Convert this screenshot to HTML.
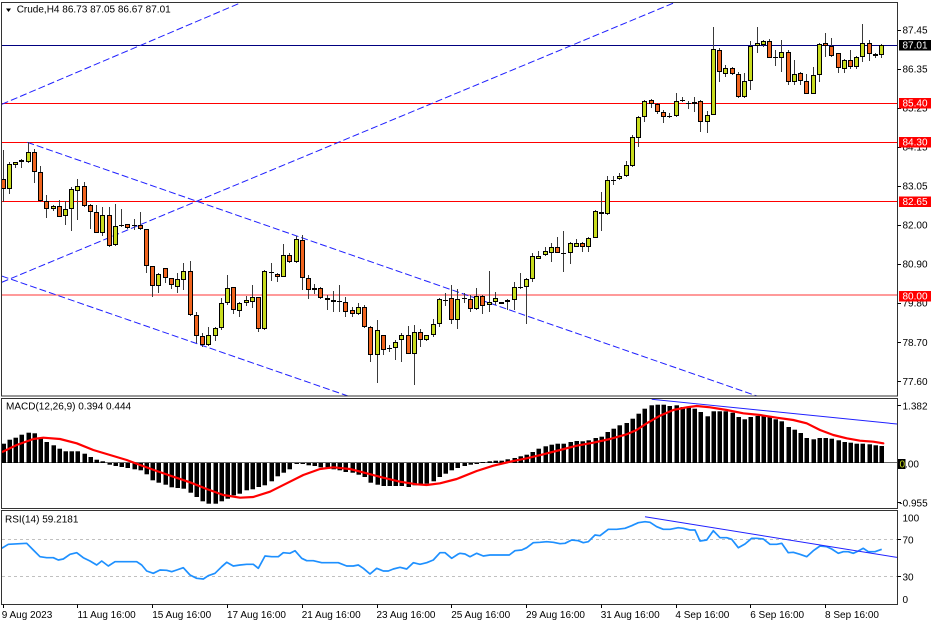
<!DOCTYPE html>
<html><head><meta charset="utf-8">
<style>
html,body{margin:0;padding:0;background:#fff;overflow:hidden;}
svg{display:block;font-family:"Liberation Sans",sans-serif;font-size:10px;}
</style></head><body>
<svg id="c" width="936" height="624" viewBox="0 0 936 624" xmlns="http://www.w3.org/2000/svg">
<rect width="936" height="624" fill="#fff"/>
<defs>
<clipPath id="cm"><rect x="2" y="3" width="895.5" height="393"/></clipPath>
<clipPath id="cd"><rect x="2" y="399" width="895.5" height="109"/></clipPath>
<clipPath id="cr"><rect x="2" y="511" width="895.5" height="93"/></clipPath>
</defs>

<!-- main panel -->
<g clip-path="url(#cm)">
  <line x1="2" y1="45.5" x2="897" y2="45.5" stroke="#000080" stroke-width="1"/>
  <line x1="2" y1="103.5" x2="897" y2="103.5" stroke="#ff0000" stroke-width="1"/>
  <line x1="2" y1="142.5" x2="897" y2="142.5" stroke="#ff0000" stroke-width="1"/>
  <line x1="2" y1="201.5" x2="897" y2="201.5" stroke="#ff0000" stroke-width="1"/>
  <line x1="2" y1="295" x2="897" y2="295" stroke="#ff9a9a" stroke-width="2"/>
  <g stroke="#2020ff" stroke-width="1" stroke-dasharray="7 3" fill="none">
    <line x1="1.7" y1="104.3" x2="242.5" y2="2"/>
    <line x1="1.7" y1="282.3" x2="676" y2="2"/>
    <line x1="27.3" y1="142.3" x2="757" y2="396"/>
    <line x1="1.7" y1="276" x2="348" y2="396"/>
  </g>
  <g id="candles"></g>
</g>
<rect x="1.5" y="2.5" width="896" height="393.5" fill="none" stroke="#333" stroke-width="1"/>
<polygon points="6,8.5 11,8.5 8.5,12" fill="#000"/>
<text x="16.7" y="12.6" fill="#000">Crude,H4  86.73 87.05 86.67 87.01</text>

<!-- main axis labels -->
<g fill="#000" id="mainlabels">
  <text x="902.5" y="33.6">87.45</text>
  <text x="902.5" y="72.6">86.35</text>
  <text x="902.5" y="111.6">85.25</text>
  <text x="902.5" y="150.6">84.15</text>
  <text x="902.5" y="189.6">83.05</text>
  <text x="902.5" y="228.6">82.00</text>
  <text x="902.5" y="267.6">80.90</text>
  <text x="902.5" y="306.6">79.80</text>
  <text x="902.5" y="346.1">78.70</text>
  <text x="902.5" y="385.1">77.60</text>
</g>
<g stroke="#000" stroke-width="1">
  <line x1="897.5" y1="30.5" x2="901" y2="30.5"/>
  <line x1="897.5" y1="69.5" x2="901" y2="69.5"/>
  <line x1="897.5" y1="108.5" x2="901" y2="108.5"/>
  <line x1="897.5" y1="147.5" x2="901" y2="147.5"/>
  <line x1="897.5" y1="186.5" x2="901" y2="186.5"/>
  <line x1="897.5" y1="225.5" x2="901" y2="225.5"/>
  <line x1="897.5" y1="264.5" x2="901" y2="264.5"/>
  <line x1="897.5" y1="303.5" x2="901" y2="303.5"/>
  <line x1="897.5" y1="342.5" x2="901" y2="342.5"/>
  <line x1="897.5" y1="381.5" x2="901" y2="381.5"/>
</g>
<rect x="899" y="40" width="32" height="10.5" fill="#000"/>
<text x="902.5" y="48.6" fill="#fff">87.01</text>
<rect x="899" y="98" width="32" height="10.5" fill="#ff0000"/>
<text x="902.5" y="106.6" fill="#fff">85.40</text>
<rect x="899" y="137" width="32" height="10.5" fill="#ff0000"/>
<text x="902.5" y="145.6" fill="#fff">84.30</text>
<rect x="899" y="196.5" width="32" height="10.5" fill="#ff0000"/>
<text x="902.5" y="205.1" fill="#fff">82.65</text>
<rect x="899" y="291" width="32" height="10.5" fill="#ff0000"/>
<text x="902.5" y="299.6" fill="#fff">80.00</text>

<!-- MACD panel -->
<g clip-path="url(#cd)">
  <line x1="2" y1="462.5" x2="897" y2="462.5" stroke="#666" stroke-width="1"/>
  <g id="hist"></g>
  <polyline id="sig" fill="none" stroke="#ff0000" stroke-width="2.2" stroke-linejoin="round" stroke-linecap="round"/>
  <line x1="651.7" y1="399.3" x2="897" y2="424" stroke="#2020ff" stroke-width="1"/>
</g>
<rect x="1.5" y="398.5" width="896" height="110" fill="none" stroke="#333" stroke-width="1"/>
<text x="6" y="409.7" fill="#000">MACD(12,26,9) 0.394 0.444</text>
<text x="902.5" y="409.3" fill="#000">1.382</text>
<text x="899.5" y="467.3" fill="#000">0.00</text>
<rect x="898" y="459" width="7.5" height="10" fill="#000"/>
<text x="899.5" y="467.3" fill="#c8dc1e">0</text>
<text x="899.3" y="506.3" fill="#000">-0.955</text>
<g stroke="#000" stroke-width="1">
  <line x1="897.5" y1="405.5" x2="901" y2="405.5"/>
  <line x1="897.5" y1="502.5" x2="901" y2="502.5"/>
</g>

<!-- RSI panel -->
<g clip-path="url(#cr)">
  <line x1="2" y1="539.5" x2="897" y2="539.5" stroke="#c0c0c0" stroke-width="1" stroke-dasharray="3 3"/>
  <line x1="2" y1="576.5" x2="897" y2="576.5" stroke="#c0c0c0" stroke-width="1" stroke-dasharray="3 3"/>
  <polyline id="rsi" fill="none" stroke="#1e90ff" stroke-width="1.7" stroke-linejoin="round"/>
  <line x1="645" y1="516.7" x2="897" y2="557.4" stroke="#2020ff" stroke-width="1"/>
</g>
<rect x="1.5" y="510.5" width="896" height="94" fill="none" stroke="#333" stroke-width="1"/>
<text x="5" y="522.7" fill="#000">RSI(14) 59.2181</text>
<text x="902.5" y="521.3" fill="#000">100</text>
<text x="902.5" y="543.6" fill="#000">70</text>
<text x="902.5" y="580.3" fill="#000">30</text>
<text x="902.5" y="602.9" fill="#000">0</text>
<g stroke="#000" stroke-width="1">
  <line x1="897.5" y1="539.5" x2="901" y2="539.5"/>
  <line x1="897.5" y1="576.5" x2="901" y2="576.5"/>
</g>

<!-- time axis -->
<g id="tticks" stroke="#000" stroke-width="1"></g>
<g fill="#000">
  <text x="1.7" y="618">9 Aug 2023</text>
  <text x="77.5" y="618">11 Aug 16:00</text>
  <text x="152.2" y="618">15 Aug 16:00</text>
  <text x="227" y="618">17 Aug 16:00</text>
  <text x="301.7" y="618">21 Aug 16:00</text>
  <text x="376.5" y="618">23 Aug 16:00</text>
  <text x="451.2" y="618">25 Aug 16:00</text>
  <text x="526" y="618">29 Aug 16:00</text>
  <text x="600.7" y="618">31 Aug 16:00</text>
  <text x="675.4" y="618">4 Sep 16:00</text>
  <text x="750.2" y="618">6 Sep 16:00</text>
  <text x="825" y="618">8 Sep 16:00</text>
</g>
</svg>
<script>
(function(){
var NS="http://www.w3.org/2000/svg";
function el(n,a,p){var e=document.createElementNS(NS,n);for(var k in a)e.setAttribute(k,a[k]);p.appendChild(e);return e;}
function X(i){return 2.7+i*6.23;}
var C=[
[179.3,189.3,150,201.7,0],[164,189.3,161.7,194.3,1],[162.3,165.3,161.7,167.7,1],[160.3,162,158.7,167.7,1],[152.3,161.7,142.3,163.3,1],
[152.3,171.7,149,183.3,0],[172.3,200.7,165.7,201.7,0],[200.7,209.3,195,217.7,0],[206.3,209.3,205,211,1],[206.3,216.7,200,217.3,0],
[209.3,216,200.7,225,1],[189.3,209.3,187.3,231,1],[185.7,190.7,179.3,220,1],[185.7,206,182.3,206.7,0],[205.3,212.3,204,229,0],
[212.3,233,205.3,233,0],[215.3,233,206.7,236,1],[215.3,246,206.7,246.7,0],[226.3,245.3,204,246,1],[225,226.3,209.3,226.7,1],
[224.3,227.7,224,228.7,0],[225,226.3,218.7,230,1],[225.3,229.3,211.7,230,0],[229.3,266,229,273.3,0],[266,286,266,296.7,0],
[274.3,286,273.3,293.3,1],[268.3,277.7,268.3,283.3,0],[278.3,285.3,277.7,289.3,0],[279.3,286.7,273.3,293.3,1],[271.3,280,263.3,290,1],
[271.3,315,260.7,315.7,0],[315,335.7,311.7,343.3,0],[336.3,345,333.3,346.7,0],[335.3,345,326.7,346,1],[327.7,335.7,326.7,340.7,1],
[303.3,328.3,298.3,330,1],[288.3,303.3,275,305,1],[287.3,310,286.7,314,0],[302.7,310.7,301.7,317.3,1],[300,303,296,306,1],
[297.3,302.3,285,308.3,1],[297.3,329.3,296.7,331.7,0],[270.7,329.3,270,330,1],[271.7,272.7,262.7,280.7,1],[274,276.7,272.7,282,0],
[255.3,276.7,244,277.3,1],[255.3,261.7,252.7,262.7,0],[239.3,261.7,236,262.7,1],[240,278.3,235,290,0],[278.3,290,275,299,0],
[288,289.5,284,294,0],[288.3,298.3,286.7,299,0],[298.3,300,295,310,0],[300,302.3,290.7,312.3,0],[301,302,285,312.3,1],
[302.3,311.7,297.3,317.3,0],[310,314,307.3,316.7,0],[306.7,314,303.3,315,1],[306.7,327.3,305,328.3,0],[326.7,355,326,361.7,0],
[330,355,320,383.3,1],[335,350,335,355,0],[347.7,348.7,345,351.7,1],[341.7,348.3,340,360,1],[335,340,332.7,362.3,1],
[335,354,326,354,0],[331.7,354,325,385,1],[331.7,340,329.3,347.3,0],[335,340,335,340.7,1],[324.3,335,319,336.7,1],
[299,324.3,298.3,326.7,1],[299.5,300.5,293.3,306,1],[298.3,320,285,324.3,0],[299,320,289,329,1],[298,299,293.3,303.3,1],
[299,309,295,312.3,0],[295.7,309,287.7,310,1],[295.7,305.7,295,314.3,0],[302.3,305,270.7,311.7,1],[298.3,302.3,292.3,305,1],
[302.3,303.7,301.7,304,0],[300.3,302.3,299.3,310,1],[287,300.3,282.3,310,1],[286.5,287.5,273.3,289,1],[279.3,287.3,278.3,324.3,1],
[256.3,279.3,252.7,282.3,1],[255.7,259.3,251,259.3,1],[251.3,255,246.7,255.7,1],[247.3,252.7,243.3,262.3,1],[247.3,253.3,237.3,253.3,0],
[252.8,253.8,231,272.3,1],[243.3,253.3,241.7,264,1],[243.3,246.7,239,247.3,1],[243.3,246.7,241.7,251.7,0],[238.3,246.7,236.7,251.7,1],
[211,237.7,210,238.3,1],[212,214,192.3,231,0],[180.3,214.3,175.7,215,1],[180.2,181.2,175.7,185,1],[175.7,179.3,173.3,180,1],
[165.3,175.7,161,176.7,1],[137.3,165.7,135,166.7,1],[117.3,138.3,115.7,147.3,1],[101,117.3,100,122.3,1],[99.7,103.7,99,108.3,0],
[103.7,111.7,103.3,114.3,0],[112.3,116.7,110,123.3,0],[115.5,116.5,113.3,118.3,1],[101,115.7,93.3,116.7,1],[99.5,100.5,96.7,102.3,1],
[103,104,101,109,1],[101.7,104,96.7,111.7,1],[101,121.7,100,131.7,0],[115,121.7,111,133.3,1],[49,115,26.7,115,1],
[50,71.7,48.3,81.7,0],[68.3,74,65,76.7,1],[68.3,74.3,66.7,75,0],[74.3,97.3,71.7,98.3,0],[81,97.3,73.3,98.3,1],
[46,81,41,90,1],[43.3,46,26.7,53.3,1],[41,45,40,46.7,1],[41,57.7,39,58.3,0],[57,58,50,65.7,1],
[52.3,58.3,40,71.7,1],[51.7,82.3,50,85,0],[74.3,82.3,60,85,1],[73.3,80.7,72.3,85,0],[81,93.7,74.3,94,0],
[75,93.7,66.7,94,1],[44.3,75,43.3,81.7,1],[43.3,46,33.3,56.7,0],[45.7,55.7,38.3,56.7,0],[53.3,68.3,53.3,73.3,0],
[60,69,59,73.3,1],[60,66.7,50,69,0],[57.3,66.7,55.7,69,1],[43.3,57.3,24.3,61.7,1],[43.3,54,40,61,0],
[54.3,56.3,53.3,57.7,1],[45,55.3,44.3,58.3,1]
];
var cg=document.getElementById("candles");
for(var i=0;i<C.length;i++){
  var c=C[i],px=Math.round(X(i));
  el("line",{x1:px+0.5,y1:Math.round(c[2]),x2:px+0.5,y2:Math.round(c[3]),stroke:"#3a3a3a","stroke-width":1},cg);
  var t=Math.round(c[0]),b=Math.round(c[1]);
  if(b-t<2){
    el("line",{x1:px-2,y1:t+0.5,x2:px+3,y2:t+0.5,stroke:"#000","stroke-width":1},cg);
  } else {
    el("rect",{x:px-1.5,y:t+0.5,width:4,height:b-t-1,fill:c[4]?"#c8dc1e":"#f0641e",stroke:"#000","stroke-width":1},cg);
  }
}
var H=[19.3,23.3,25.3,28.3,30.3,29.7,25,21,17.7,14.3,11.7,11.7,11.7,9.3,6,3.3,1.7,-1.7,-3,-4,
-5,-6.3,-7.3,-11.3,-17.3,-19.7,-21.7,-24.3,-25,-25.7,-29.7,-34,-38.3,-40.7,-40.7,-38.3,-35.7,-32.3,-30.7,-27.3,
-26.3,-24,-22.3,-18.3,-13.3,-9.7,-6.3,-1,-0.5,-2.3,-3,-4.3,-5.7,-6.3,-7.3,-9,-9.7,-11.7,-14,-19.7,
-21.7,-23,-23,-23,-23,-24,-22.3,-22.3,-20.7,-18.3,-14,-10.7,-7.3,-5,-3,-1.7,
-0.5,1,1.7,2.3,2.3,3.7,5,6.7,8.3,11,14.3,16.7,18.3,19.3,19.3,21,22,21.7,22.7,25,
26.3,31,34.3,37.7,40,44.3,49.3,54.3,57.7,58.3,58.3,57,57.7,56,56,54.3,51,46.7,51.7,51.7,
51.7,50.3,46,43.7,46,47,47,46,43.7,41.7,36,33.3,30,25,23.7,25,25,24.3,22.7,21,
20.3,19.3,19.3,18.7,17.7,17];
var hg=document.getElementById("hist"),z=463;
for(var i=0;i<H.length;i++){
  var px=Math.round(X(i)),h=H[i];
  if(Math.abs(h)<0.6)h=h<0?-1:1;
  var y=h>0?z-h:z, hh=Math.abs(h);
  el("rect",{x:px-1.5,y:y,width:4.5,height:hh,fill:"#000"},hg);
}
function pts(arrs){var s=[];arrs.forEach(function(a){var x0=a[0],y0=a[1],d=a[2];for(var k=0;k<d.length;k+=2)s.push((x0+d[k]/3).toFixed(1)+","+(y0+d[k+1]/3).toFixed(1));});return s.join(" ");}
document.getElementById("sig").setAttribute("points",pts([
[0,395,[8,170,50,150,100,132,130,128,180,132,230,145,280,165,330,180,380,195,420,210,470,228,520,245,570,262,620,282,670,300,720,308,760,306,810,290,860,265,910,240,960,222,1000,217,1050,222,1100,235,1150,248,1200,260,1250,268,1280,270,1320,265,1370,252]],
[460,395,[0,248,50,228,100,212,150,200,200,190,250,178,300,165,350,152,400,143,450,132,500,118,530,105,560,85,600,62,640,45,680,37,710,33,750,37,800,45,850,55,900,60,950,68,1000,75,1040,85,1080,105,1120,120,1160,130,1200,137,1240,140,1270,145]]
]));
document.getElementById("rsi").setAttribute("points",pts([
[0,505,[5,130,25,118,80,115,100,135,120,155,140,158,160,158,175,165,190,162,210,148,230,143,250,158,270,168,290,180,305,168,325,183,345,170,365,170,385,170,410,170,425,180,440,198,460,205,480,195,500,196,515,200,530,195,550,188,570,210,590,220,610,222,625,212,645,205,665,185,680,172,700,183,720,180,740,178,760,178,775,190,795,153,815,155,835,155,850,143,870,145,885,137,905,160,920,167,940,167,965,173,990,173,1015,173,1040,183,1060,183,1075,180,1090,190,1110,207,1130,190,1150,198,1165,198,1180,192,1200,187,1220,192,1240,173,1260,178,1280,173,1300,165,1320,143,1335,143,1355,160,1375,147]],
[460,505,[0,145,15,147,30,155,50,145,70,153,90,150,110,150,130,150,148,150,165,137,185,135,200,128,220,113,240,112,260,110,280,112,300,116,315,115,335,105,355,107,370,113,385,110,405,90,420,92,445,73,470,73,495,70,515,62,535,53,555,50,570,52,590,65,610,73,630,73,655,68,670,70,690,75,705,75,720,108,740,105,760,77,780,98,800,98,815,103,835,128,855,117,875,100,890,100,910,102,930,118,950,118,965,115,985,143,1000,142,1020,148,1040,155,1060,137,1080,123,1100,125,1115,132,1135,145,1150,140,1165,140,1180,145,1195,138,1210,130,1225,140,1245,140,1265,133]]
]));
var tg=document.getElementById("tticks");
for(var k=0;k<12;k++){var px=Math.round(X(k*12))+0.5;el("line",{x1:px,y1:604.5,x2:px,y2:608},tg);}
})();
</script>
</body></html>
